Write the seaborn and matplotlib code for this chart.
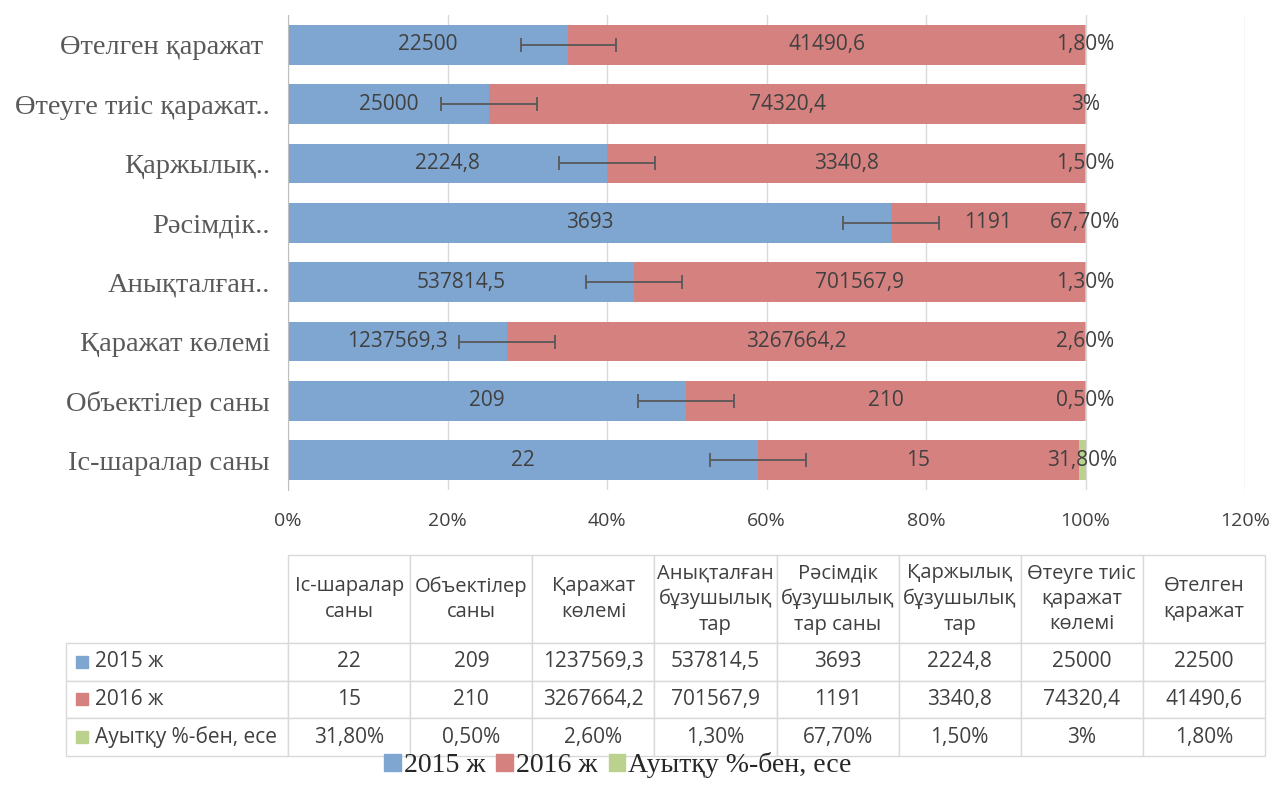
import numpy as np
import pandas as pd
import seaborn as sns
import matplotlib.pyplot as plt
from matplotlib.patches import Patch, Rectangle
from matplotlib.ticker import PercentFormatter

# деректер
axis_labels = ["Іс-шаралар саны", "Объектілер саны", "Қаражат көлемі",
               "Анықталған..", "Рәсімдік..", "Қаржылық..",
               "Өтеуге тиіс қаражат..", "Өтелген қаражат "]
table_headers = ["Іс-шаралар\nсаны", "Объектілер\nсаны", "Қаражат\nкөлемі",
                 "Анықталған\nбұзушылық\nтар", "Рәсімдік\nбұзушылық\nтар саны",
                 "Қаржылық\nбұзушылық\nтар", "Өтеуге тиіс\nқаражат\nкөлемі",
                 "Өтелген\nқаражат"]
y2015 = [22, 209, 1237569.3, 537814.5, 3693, 2224.8, 25000, 22500]
y2016 = [15, 210, 3267664.2, 701567.9, 1191, 3340.8, 74320.4, 41490.6]
dev_pct = [31.8, 0.5, 2.6, 1.3, 67.7, 1.5, 3, 1.8]
err = [6, 6, 6, 6, 6, 6, 6, 6]
series = ["2015 ж", "2016 ж", "Ауытқу %-бен, есе"]

blue, red, green = "#7fa6d0", "#d4817f", "#bad28d"
text_c = "#404040"


def num(v):
    return str(v).replace(".", ",")


def pct(v):
    return (f"{v:g}%" if float(v).is_integer() else f"{v:.2f}%").replace(".", ",")


df = pd.DataFrame({"cat": axis_labels, "y15": y2015, "y16": y2016, "dev": dev_pct})
df["total"] = df.y15 + df.y16 + df.dev / 100
df["p15"] = df.y15 / df.total * 100
df["p1516"] = (df.y15 + df.y16) / df.total * 100
df["pall"] = 100.0

sns.set_style("white")
plt.rcParams["font.family"] = ["Open Sans", "DejaVu Sans"]

fig = plt.figure(figsize=(12.74, 7.89), dpi=100)
ax = fig.add_axes([288 / 1274, 299 / 789, 957 / 1274, 475 / 789])

order = axis_labels[::-1]
for col, c in [("pall", green), ("p1516", red), ("p15", blue)]:
    sns.barplot(data=df, x=col, y="cat", order=order, color=c, width=0.67,
                saturation=1, errorbar=None, linewidth=0, ax=ax)

pos = np.array([order.index(c) for c in df.cat])
ax.errorbar(df.p15, pos, xerr=err, fmt="none", ecolor="#595959",
            elinewidth=1.3, capsize=5, capthick=1.3, zorder=5)

for i, r in df.iterrows():
    kw = dict(ha="center", va="center", fontsize=15, color=text_c, zorder=6)
    ax.text(r.p15 / 2, pos[i], num(y2015[i]), **kw)
    ax.text((r.p15 + r.p1516) / 2, pos[i], num(y2016[i]), **kw)
    ax.text((r.p1516 + 100) / 2, pos[i], pct(dev_pct[i]), **kw)

ax.set_xlim(0, 120)
ax.set_ylim(7.5, -0.5)
ax.set_xticks(np.arange(0, 121, 20))
ax.xaxis.set_major_formatter(PercentFormatter(decimals=0))
ax.set_xlabel("")
ax.set_ylabel("")
ax.grid(axis="x", color="#d9d9d9", lw=1)
ax.set_axisbelow(True)
for s in ["top", "right", "bottom"]:
    ax.spines[s].set_visible(False)
ax.spines["left"].set_color("#bfbfbf")
ax.tick_params(axis="x", length=0, pad=16, labelsize=14, labelcolor=text_c)
ax.tick_params(axis="y", length=0, pad=13)
ax.set_yticks(np.arange(-0.5, 8, 1), minor=True)
ax.tick_params(axis="y", which="minor", length=6, color="#bfbfbf")
for lab in ax.get_yticklabels():
    lab.set_fontfamily("Liberation Serif")
    lab.set_fontsize(20.5)
    lab.set_color("#595959")

# кесте
tax = fig.add_axes([66 / 1274, 33 / 789, 1199 / 1274, 201 / 789])
tax.axis("off")
rows = [[""] + table_headers,
        [series[0]] + [num(v) for v in y2015],
        [series[1]] + [num(v) for v in y2016],
        [series[2]] + [pct(v) for v in dev_pct]]
tbl = tax.table(cellText=rows, bbox=[0, 0, 1, 1], cellLoc="center",
                colWidths=[222 / 1199] + [122 / 1199] * 8)
tbl.auto_set_font_size(False)
h_head, h_row = 88 / 201, 37.7 / 201
for (r, c), cell in tbl.get_celld().items():
    cell.set_height(h_head if r == 0 else h_row)
    cell.set_edgecolor("#d9d9d9")
    cell.set_linewidth(1)
    cell.get_text().set_fontsize(15 if r > 0 else 14.5)
    cell.get_text().set_color(text_c)
    if r == 0:
        cell.get_text().set_linespacing(1.35)
    if r == 0 and c == 0:
        cell.set_edgecolor("none")
    if c == 0 and r > 0:
        cell.set_text_props(ha="left")
        cell.PAD = 0.13
tbl[0, 0].set_zorder(0)

for k, c in enumerate([blue, red, green]):
    yc = (2 - k + 0.5) * h_row
    tax.add_patch(Rectangle((10 / 1199, yc - 6 / 201), 12 / 1199, 12 / 201,
                            transform=tax.transAxes, color=c, zorder=5))

fig.legend(handles=[Patch(color=c, label=s) for c, s in zip([blue, red, green], series)],
           loc="lower center", bbox_to_anchor=(0.485, -0.018), ncol=3, frameon=False,
           prop={"family": "Liberation Serif", "size": 20},
           handlelength=0.6, handleheight=0.6, handletextpad=0.1, columnspacing=0.4)

fig.savefig("out.png", dpi=100)
